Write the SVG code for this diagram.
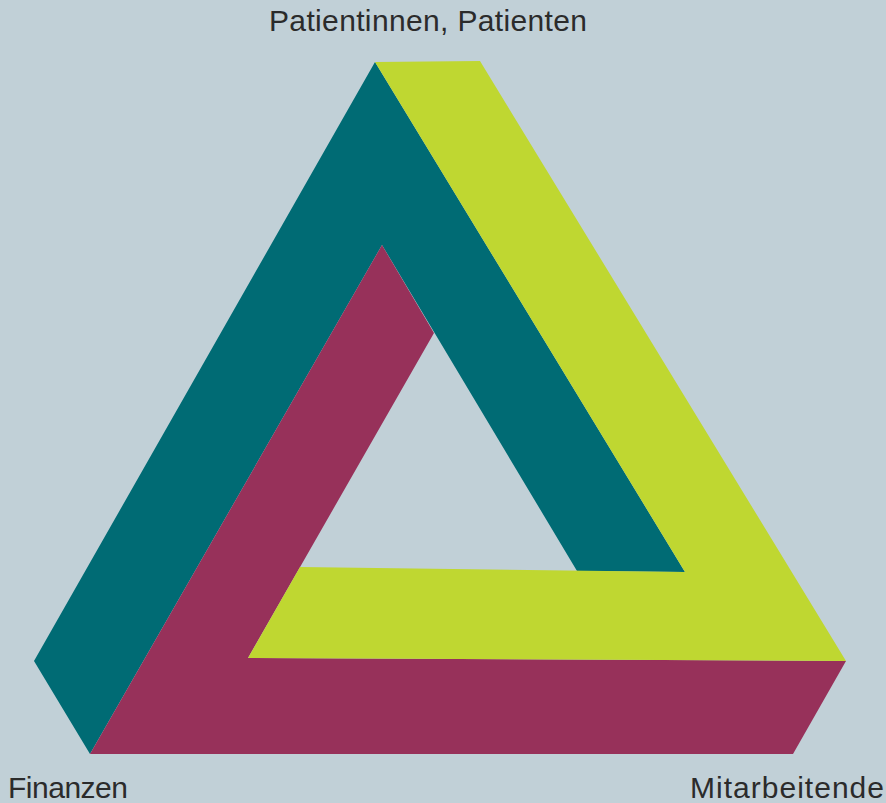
<svg xmlns="http://www.w3.org/2000/svg" width="886" height="803" viewBox="0 0 886 803">
  <style>
    .lbl { font-family: "Liberation Sans", Arial, sans-serif; font-size: 30px; fill: #2b2b2b; }
  </style>
  <rect width="886" height="803" fill="#c1d0d7"/>
  <g id="teal-bar">
    <polygon points="375,62 685,572 577,571 382,245 90,754 34,661" fill="#006b74"/>
  </g>
  <g id="magenta-bar">
    <polygon points="382,245 434,333 248,658 846,661 793,754 90,754" fill="#97315a"/>
  </g>
  <g id="yellow-bar">
    <polygon points="375,62 480,61 846,661 248,658 300,567 685,572" fill="#bfd731"/>
  </g>
  <g id="labels">
    <text class="lbl" x="269" y="31" textLength="318" lengthAdjust="spacing">Patientinnen, Patienten</text>
    <text class="lbl" x="8" y="798" textLength="120" lengthAdjust="spacing">Finanzen</text>
    <text class="lbl" x="690" y="798" textLength="194" lengthAdjust="spacing">Mitarbeitende</text>
  </g>
</svg>
